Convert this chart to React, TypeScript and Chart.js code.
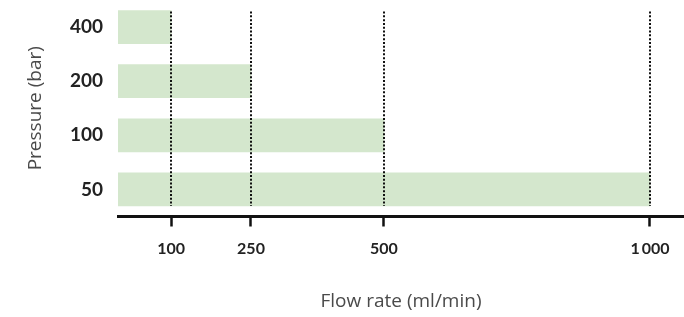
import React, { useEffect, useRef } from "react";
import { Chart, registerables } from "chart.js";

Chart.register(...registerables);

const pressures = ["400", "200", "100", "50"];
const flowRates = [100, 250, 500, 1000];
const xTicks = [100, 250, 500, 1000];
const xTickLabels = ["100", "250", "500", "1\u2009000"];

const FONT = "Lato, 'Open Sans', sans-serif";
const TITLE_FONT = "'Open Sans', Lato, sans-serif";

const dottedLines = {
  id: "dottedLines",
  afterDatasetsDraw(chart: any) {
    const meta = chart.getDatasetMeta(0);
    const bars = meta.data;
    if (!bars.length) return;
    const first = bars[0];
    const last = bars[bars.length - 1];
    const top = first.y - first.height / 2 + 1;
    const bottom = last.y + last.height / 2;
    const x = chart.scales.x;
    const ctx = chart.ctx;
    ctx.save();
    ctx.strokeStyle = "#111";
    ctx.lineWidth = 2;
    ctx.setLineDash([2, 1.8]);
    xTicks.forEach((v) => {
      const px = Math.round(x.getPixelForValue(v));
      ctx.beginPath();
      ctx.moveTo(px, top);
      ctx.lineTo(px, bottom);
      ctx.stroke();
    });
    ctx.restore();
  },
};

export default function App() {
  const ref = useRef<HTMLCanvasElement | null>(null);
  useEffect(() => {
    if (!ref.current) return;
    const chart = new Chart(ref.current, {
      type: "bar",
      data: {
        labels: pressures,
        datasets: [
          {
            data: flowRates,
            backgroundColor: "rgb(212,231,205)",
            borderWidth: 0,
            barThickness: 33,
          },
        ],
      },
      options: {
        indexAxis: "y",
        animation: false,
        responsive: true,
        maintainAspectRatio: false,
        layout: { padding: 0 },
        plugins: { legend: { display: false }, tooltip: { enabled: false } },
        scales: {
          x: {
            type: "linear",
            min: 0,
            max: 1064,
            afterBuildTicks: (scale: any) => {
              scale.ticks = xTicks.map((v) => ({ value: v }));
            },
            afterFit: (scale: any) => {
              scale.height = 100.5;
              scale.paddingLeft = 0;
              scale.paddingRight = 0;
            },
            grid: {
              drawOnChartArea: false,
              drawTicks: true,
              tickLength: 10,
              tickColor: "#111",
              tickWidth: 2.5,
              color: "#111",
            },
            border: { display: true, color: "#111", width: 3 },
            ticks: {
              autoSkip: false,
              maxRotation: 0,
              padding: 13,
              color: "#222",
              font: { family: FONT, size: 16, weight: "bold" },
              callback: (v: any) => {
                const i = xTicks.indexOf(Number(v));
                return i >= 0 ? xTickLabels[i] : "";
              },
            },
            title: {
              display: true,
              text: "Flow rate (ml/min)",
              color: "#4a4a4a",
              font: { family: TITLE_FONT, size: 19 },
              padding: { top: 4, bottom: 4 },
            },
          },
          y: {
            type: "category",
            afterFit: (scale: any) => {
              scale.width = 118;
              scale.paddingTop = 0;
              scale.paddingBottom = 0;
            },
            grid: { display: false, drawTicks: false },
            border: { display: false },
            ticks: {
              padding: 15,
              color: "#222",
              font: { family: FONT, size: 19, weight: "bold" },
            },
            title: {
              display: true,
              text: "Pressure (bar)",
              color: "#4a4a4a",
              font: { family: TITLE_FONT, size: 19 },
              padding: { top: 24, bottom: 4 },
            },
          },
        },
      },
      plugins: [dottedLines],
    });
    return () => chart.destroy();
  }, []);
  return (
    <div style={{ position: "absolute", left: 0, top: 0, width: 684, height: 317 }}>
      <canvas ref={ref} />
    </div>
  );
}
